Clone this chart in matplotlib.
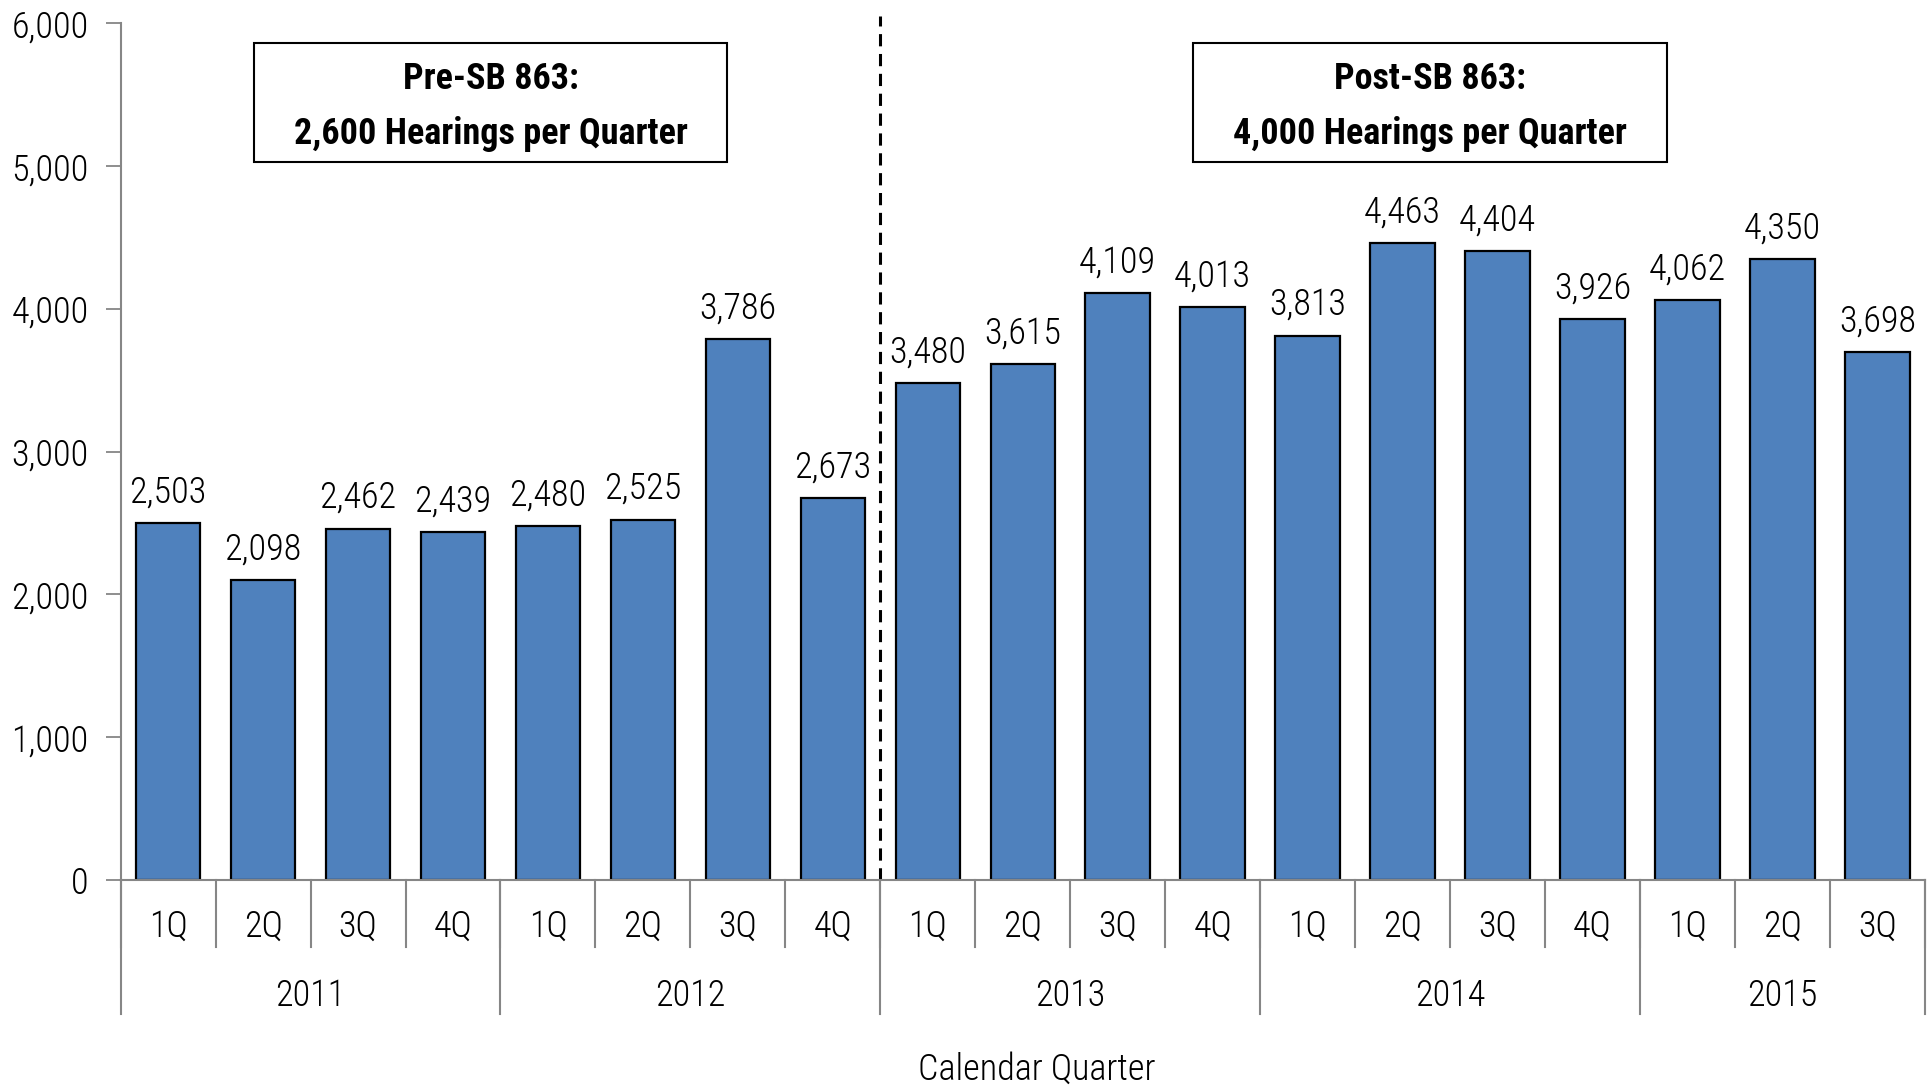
import matplotlib
matplotlib.use('Agg')
import numpy as np
import matplotlib.pyplot as plt
from matplotlib.patches import Rectangle
import matplotlib.transforms as mtransforms
from matplotlib import font_manager

quarters = ['1Q', '2Q', '3Q', '4Q'] * 4 + ['1Q', '2Q', '3Q']
years = ['2011', '2012', '2013', '2014', '2015']
year_counts = [4, 4, 4, 4, 3]
hearings = [2503, 2098, 2462, 2439, 2480, 2525, 3786, 2673,
            3480, 3615, 4109, 4013, 3813, 4463, 4404, 3926,
            4062, 4350, 3698]
yticks = [0, 1000, 2000, 3000, 4000, 5000, 6000]

# condensed font if there is one, else Arial-like
names = {f.name for f in font_manager.fontManager.ttflist}
fam, fs = 'Liberation Sans', 22
for cand in ['Liberation Sans Narrow', 'Roboto Condensed', 'Open Sans Condensed', 'Arial Narrow']:
    if cand in names:
        fam, fs = cand, 26
        break
plt.rcParams['font.family'] = [fam, 'DejaVu Sans']
plt.rcParams['font.weight'] = 'light'

grey = '#868686'

fig = plt.figure(figsize=(19.3, 10.87), dpi=100)
ax = fig.add_axes([0.0625, 0.1904, 0.9349, 0.7881])

x = np.arange(len(hearings))
ax.bar(x, hearings, width=0.68, color='#4F81BD', edgecolor='black', linewidth=1.6, zorder=2)

for xi, v in zip(x, hearings):
    ax.annotate(f'{v:,}', (xi, v), xytext=(0, 22), textcoords='offset points',
                ha='center', va='center', fontsize=fs)

ax.set_xlim(-0.5, len(hearings) - 0.5)
ax.set_ylim(0, 6000)
ax.set_yticks(yticks)
ax.set_yticklabels([f'{t:,}' for t in yticks], fontsize=fs)
ax.tick_params(axis='y', direction='out', length=11, width=1.3, color=grey, pad=12)
ax.set_xticks([])
for s in ['top', 'right']:
    ax.spines[s].set_visible(False)
for s in ['left', 'bottom']:
    ax.spines[s].set_color(grey)
    ax.spines[s].set_linewidth(1.5)
ax.spines['bottom'].set_zorder(3)

# multi-level category axis
trans = mtransforms.blended_transform_factory(ax.transData, ax.transAxes)
for xi, q in zip(x, quarters):
    ax.text(xi, -0.0545, q, transform=trans, ha='center', va='center', fontsize=fs)
for b in np.arange(-0.5, len(hearings), 1.0):
    ax.plot([b, b], [0, -0.0776], transform=trans, color=grey, lw=1.5, clip_on=False)
start = 0
for yr, n in zip(years, year_counts):
    ax.plot([start - 0.5, start - 0.5], [0, -0.156], transform=trans, color=grey, lw=1.5, clip_on=False)
    ax.text(start + (n - 1) / 2, -0.135, yr, transform=trans, ha='center', va='center', fontsize=fs)
    start += n
ax.plot([start - 0.5, start - 0.5], [0, -0.156], transform=trans, color=grey, lw=1.5, clip_on=False)
ax.text(0.508, -0.221, 'Calendar Quarter', transform=ax.transAxes, ha='center', va='center', fontsize=fs)

# SB 863 divider
ax.plot([7.5, 7.5], [0, 6050], color='black', lw=2.2, ls=(0, (4, 2.5)), clip_on=False, zorder=3)

# annotation boxes
for x0, x1, l1, l2 in [(0.90, 5.89, 'Pre-SB 863:', '2,600 Hearings per Quarter'),
                       (10.79, 15.78, 'Post-SB 863:', '4,000 Hearings per Quarter')]:
    ax.add_patch(Rectangle((x0, 5029), x1 - x0, 5863 - 5029, fill=False,
                           edgecolor='black', lw=1.5, zorder=4))
    xc = (x0 + x1) / 2
    ax.text(xc, 5612, l1, ha='center', va='center', fontsize=fs, fontweight='bold')
    ax.text(xc, 5228, l2, ha='center', va='center', fontsize=fs, fontweight='bold')

fig.savefig('out.png', dpi=100)
